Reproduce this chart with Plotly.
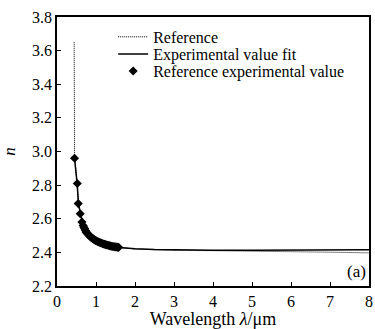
import plotly.graph_objects as go

# Reference (dotted) curve
ref_x = [0.44, 0.442, 0.445, 0.45, 0.5, 0.52, 0.55, 0.6, 0.65, 0.7, 0.8, 0.9, 1.0,
         1.2, 1.4, 1.6, 2.0, 2.5, 3, 4, 5, 6, 7, 8]
ref_y = [3.65, 3.4, 3.1, 2.97, 2.85, 2.80, 2.69, 2.625, 2.58, 2.545, 2.51, 2.485, 2.468,
         2.448, 2.436, 2.429, 2.42, 2.415, 2.412, 2.41, 2.408, 2.405, 2.401, 2.397]

# Experimental value fit (solid)
fit_x = [0.45, 0.5, 0.52, 0.55, 0.6, 0.65, 0.7, 0.8, 0.9, 1.0, 1.2, 1.4, 1.6, 1.8,
         2.0, 2.5, 3, 4, 5, 6, 7, 8]
fit_y = [2.96, 2.86, 2.80, 2.69, 2.625, 2.58, 2.545, 2.51, 2.485, 2.468, 2.448, 2.436,
         2.429, 2.424, 2.421, 2.417, 2.415, 2.413, 2.413, 2.414, 2.415, 2.416]

# Reference experimental values (diamonds)
pt_x = [0.45, 0.52, 0.545, 0.595, 0.64, 0.67, 0.69, 0.71, 0.73, 0.75, 0.77, 0.79, 0.81,
        0.83, 0.85, 0.87, 0.89, 0.91, 0.93, 0.95, 0.97, 0.99, 1.01, 1.04, 1.07, 1.10,
        1.13, 1.16, 1.19, 1.22, 1.25, 1.28, 1.31, 1.34, 1.37, 1.40, 1.43, 1.46, 1.49,
        1.52, 1.55, 1.58]
pt_y = [2.96, 2.81, 2.69, 2.63, 2.58, 2.56, 2.55, 2.54, 2.53, 2.52, 2.515, 2.51, 2.505,
        2.50, 2.495, 2.49, 2.487, 2.483, 2.48, 2.477, 2.474, 2.471, 2.468, 2.465, 2.462,
        2.459, 2.456, 2.453, 2.45, 2.448, 2.446, 2.444, 2.442, 2.44, 2.438, 2.436, 2.435,
        2.434, 2.433, 2.432, 2.431, 2.43]

x_ticks = [0, 1, 2, 3, 4, 5, 6, 7, 8]
y_ticks = [2.2, 2.4, 2.6, 2.8, 3.0, 3.2, 3.4, 3.6, 3.8]

FONT = "Liberation Serif"

fig = go.Figure()
fig.add_trace(go.Scatter(x=ref_x, y=ref_y, mode="lines", name="Reference",
                         line=dict(color="black", width=1, dash="1px,1px"),
                         legend="legend"))
fig.add_trace(go.Scatter(x=fit_x, y=fit_y, mode="lines", name="Experimental value fit",
                         line=dict(color="black", width=1.5), legend="legend2"))
fig.add_trace(go.Scatter(x=pt_x, y=pt_y, mode="markers", name="Reference experimental value",
                         marker=dict(symbol="diamond", color="black", size=7),
                         legend="legend3"))

axis_common = dict(showline=True, linecolor="black", linewidth=1.5, mirror=True,
                   ticks="inside", ticklen=4, tickcolor="black", tickwidth=1,
                   showgrid=False, zeroline=False,
                   tickfont=dict(family=FONT, size=16, color="black"))

fig.update_xaxes(range=[0, 8], tickvals=x_ticks, ticktext=[str(v) for v in x_ticks],
                 title=dict(text="Wavelength <i>λ</i>/μm",
                            font=dict(family=FONT, size=18, color="black"), standoff=1),
                 **axis_common)
fig.update_yaxes(range=[2.2, 3.8], tickvals=y_ticks, ticktext=[f"{v:.1f}" for v in y_ticks],
                 title=dict(text="<i>n</i>", font=dict(family=FONT, size=17, color="black"),
                            standoff=12),
                 **axis_common)

fig.add_annotation(x=1, y=0, xref="paper", yref="paper", xanchor="right", yanchor="bottom",
                   text="(a)", showarrow=False, xshift=-1, yshift=3,
                   font=dict(family=FONT, size=17, color="black"))

leg_common = dict(x=0.18, xanchor="left", yanchor="middle", bgcolor="rgba(0,0,0,0)",
                  borderwidth=0, font=dict(family=FONT, size=16, color="black"),
                  itemwidth=30)

fig.update_layout(
    width=375, height=329,
    margin=dict(l=57, r=2, t=17, b=43),
    paper_bgcolor="white", plot_bgcolor="white",
    showlegend=True,
    legend=dict(y=0.926, **leg_common),
    legend2=dict(y=0.862, **leg_common),
    legend3=dict(y=0.799, **leg_common),
)

fig.write_html("out.html")
